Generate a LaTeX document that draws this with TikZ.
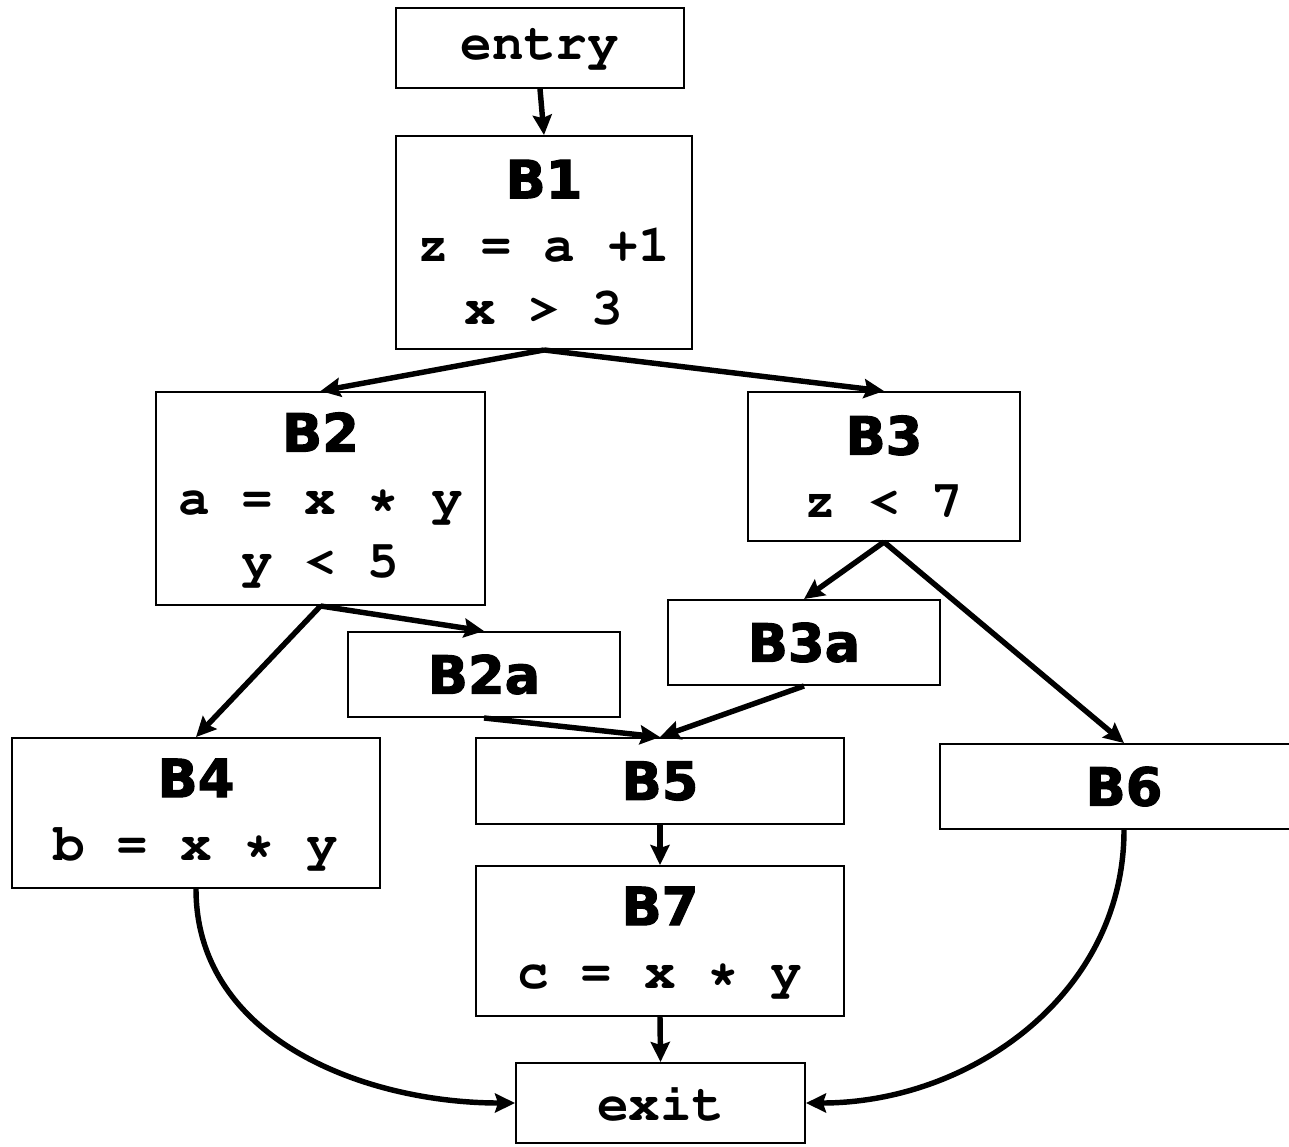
\documentclass[tikz,border=0pt]{standalone}
\usepackage[T1]{fontenc}
\usepackage{fontspec}
\newfontfamily\headfont{DejaVu Sans}[BoldFeatures={FakeBold=2}]
\usetikzlibrary{arrows.meta}

\tikzset{
  block/.style = {draw, line width=1.1pt, rectangle, align=center, inner sep=0pt,
    font=\fontencoding{T1}\fontfamily{pcr}\bfseries\fontsize{30}{35.8}\selectfont},
}
\newcommand{\blkname}[1]{{\headfont\bfseries #1}}

\begin{document}
\begin{tikzpicture}
		\useasboundingbox (0,0) rectangle (25.78,-22.92);
		
		\node [block, minimum width=5.76cm, minimum height=1.60cm] (entry) at (10.80,-0.96) {entry};
		\node [block, minimum width=5.92cm, minimum height=4.26cm] (b1) at (10.88,-4.85) {\blkname{B1}\\z = a +1\\x > 3};
		\node [block, minimum width=6.58cm, minimum height=4.26cm] (b2) at (6.41,-9.97) {\blkname{B2}\\a = x * y\\y < 5};
		\node [block, minimum width=5.44cm, minimum height=2.98cm] (b3) at (17.68,-9.33) {\blkname{B3}\\z < 7};
		\node [block, minimum width=5.44cm, minimum height=1.70cm] (b2a) at (9.68,-13.49) {\blkname{B2a}};
		\node [block, minimum width=5.44cm, minimum height=1.70cm] (b3a) at (16.08,-12.85) {\blkname{B3a}};
		\node [block, minimum width=7.36cm, minimum height=3.00cm] (b4) at (3.92,-16.26) {\blkname{B4}\\b = x * y};
		\node [block, minimum width=7.36cm, minimum height=1.72cm] (b5) at (13.20,-15.62) {\blkname{B5}};
		\node [block, minimum width=7.36cm, minimum height=1.70cm] (b6) at (22.48,-15.73) {\blkname{B6}};
		\node [block, minimum width=7.36cm, minimum height=3.00cm] (b7) at (13.20,-18.82) {\blkname{B7}\\c = x * y};
		\node [block, minimum width=5.78cm, minimum height=1.60cm] (exit) at (13.21,-22.06) {exit};
		
		\begin{scope}[-{Stealth[length=0.40cm, width=0.38cm, inset=0.06cm]}, line width=3.1pt]
			\draw (entry.south) -- (b1.north);
			\draw (b1.south) -- (b2.north);
			\draw (b1.south) -- (b3.north);
			\draw (b2.south) -- (b4.north);
			\draw (b2.south) -- (b2a.north);
			\draw (b3.south) -- (b3a.north);
			\draw (b3.south) -- (b6.north);
			\draw (b2a.south) -- (b5.north);
			\draw (b3a.south) -- (b5.north);
			\draw (b5.south) -- (b7.north);
			\draw (b7.south) -- (exit.north);
			\draw (b4.south) to [out=-90, in=180] (exit.west);
			\draw (b6.south) to [out=-90, in=0] (exit.east);
		\end{scope}
	\end{tikzpicture}
\end{document}
